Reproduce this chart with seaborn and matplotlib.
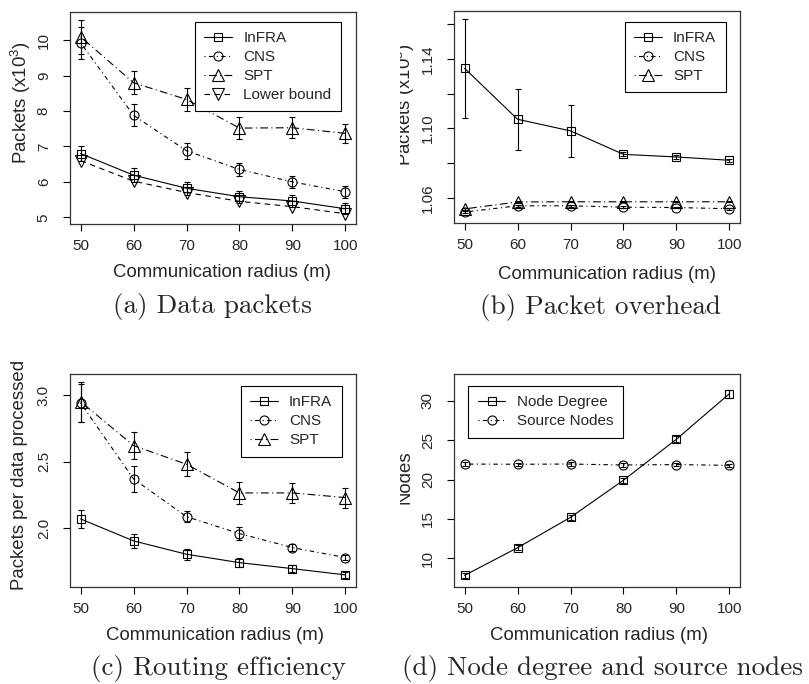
import numpy as np
import matplotlib
matplotlib.use("Agg")
import matplotlib.pyplot as plt
import seaborn as sns
from matplotlib.transforms import Bbox, TransformedBbox

# ===============================
# 1. Data
# ===============================
radius = [50, 60, 70, 80, 90, 100]

# (a) Data packets (x10^3)
a_infra = [6.80, 6.19, 5.82, 5.58, 5.46, 5.24]
a_infra_err = [0.22, 0.20, 0.18, 0.17, 0.17, 0.16]
a_cns = [9.93, 7.88, 6.88, 6.35, 6.00, 5.72]
a_cns_err = [0.45, 0.31, 0.22, 0.18, 0.18, 0.17]
a_spt = [10.10, 8.80, 8.33, 7.52, 7.53, 7.37]
a_spt_err = [0.48, 0.33, 0.33, 0.32, 0.30, 0.26]
a_lower = [6.60, 6.02, 5.70, 5.45, 5.30, 5.10]

# (b) Packet overhead (x10^3)
b_infra = [1.1346, 1.1053, 1.0986, 1.0851, 1.0836, 1.0817]
b_infra_err = [0.0286, 0.0176, 0.0148, 0.0012, 0.0010, 0.0010]
b_cns = [1.0519, 1.0555, 1.0555, 1.0547, 1.0545, 1.0538]
b_cns_err = [0.0005, 0.0005, 0.0005, 0.0005, 0.0005, 0.0005]
b_spt = [1.0537, 1.0577, 1.0578, 1.0578, 1.0578, 1.0578]
b_spt_err = [0.0004, 0.0004, 0.0004, 0.0004, 0.0004, 0.0004]

# (c) Routing efficiency
c_infra = [2.07, 1.905, 1.805, 1.742, 1.697, 1.65]
c_infra_err = [0.065, 0.05, 0.04, 0.035, 0.025, 0.02]
c_cns = [2.94, 2.37, 2.087, 1.96, 1.855, 1.78]
c_cns_err = [0.14, 0.095, 0.04, 0.05, 0.025, 0.02]
c_spt = [2.95, 2.62, 2.48, 2.265, 2.265, 2.23]
c_spt_err = [0.15, 0.10, 0.09, 0.085, 0.075, 0.075]

# (d) Node degree and source nodes
d_degree = [7.79, 11.31, 15.18, 19.91, 25.13, 30.93]
d_degree_err = [0.3, 0.3, 0.3, 0.3, 0.4, 0.5]
d_source = [21.97, 21.94, 21.97, 21.85, 21.90, 21.80]
d_source_err = [0.2, 0.2, 0.2, 0.2, 0.2, 0.2]

# ===============================
# 2. Style
# ===============================
sns.set_style("ticks")
plt.rcParams["font.family"] = ["Liberation Sans", "DejaVu Sans"]
plt.rcParams["axes.linewidth"] = 0.9

SOLID = "-"
DOTDASH = (0, (1, 3, 4, 3))
LONGDOTDASH = (0, (1, 3, 7, 3))
DASHED = (0, (5, 4))

W, H = 809, 684
fig = plt.figure(figsize=(W / 100, H / 100), dpi=100)


def add_axes(left, top, right, bottom):
    # pixel box -> figure fraction
    return fig.add_axes([left / W, 1 - bottom / H, (right - left) / W, (bottom - top) / H])


def draw_series(ax, y, err, label, marker, ls, ms=6.5):
    sns.lineplot(x=radius, y=y, ax=ax, color="black", marker=marker, markersize=ms,
                 markerfacecolor="none", markeredgecolor="black", markeredgewidth=0.8,
                 linewidth=0.8, linestyle=ls, label=label)
    if err is not None:
        ax.errorbar(radius, y, yerr=err, fmt="none", ecolor="black",
                    elinewidth=0.8, capsize=2.5, capthick=0.8)


def style_axes(ax, ylim, yticks, ylabels, ylabel, xl_pos, yl_pos, leg_loc, leg_anchor, clip_x=None):
    ax.set_xlim(48, 102)
    ax.set_ylim(*ylim)
    ax.set_xticks(radius)
    ax.set_xticklabels([str(r) for r in radius])
    ax.set_yticks(yticks)
    ax.set_yticklabels(ylabels, rotation=90, va="center")
    ax.tick_params(axis="both", direction="out", length=4.8, width=0.8,
                   labelsize=11, color="black")
    ax.tick_params(axis="x", pad=6)
    ax.tick_params(axis="y", pad=9)
    for sp in ax.spines.values():
        sp.set_visible(True)
        sp.set_color("#333333")
    ax.set_xlabel("Communication radius (m)", fontsize=13.4, va="center")
    ax.xaxis.set_label_coords(*xl_pos)
    ylab = ax.set_ylabel(ylabel, fontsize=13.4, va="center")
    ax.yaxis.set_label_coords(*yl_pos)
    if clip_x is not None:
        # the left panels' neighbour cuts this label off in the original
        ylab.set_clip_box(TransformedBbox(Bbox([[clip_x / W, 0], [1, 1]]), fig.transFigure))
        ylab.set_clip_on(True)
    leg = ax.legend(loc=leg_loc, bbox_to_anchor=leg_anchor, fontsize=11, frameon=True,
                    fancybox=False, framealpha=1, edgecolor="black", handlelength=1.8,
                    handletextpad=0.75, borderpad=0.62, labelspacing=0.32,
                    borderaxespad=0, numpoints=1)
    leg.get_frame().set_linewidth(0.8)


# ===============================
# 3. (a) Data packets
# ===============================
ax_a = add_axes(70, 12, 356, 224)
draw_series(ax_a, a_infra, a_infra_err, "InFRA", "s", SOLID, 6)
draw_series(ax_a, a_cns, a_cns_err, "CNS", "o", DOTDASH)
draw_series(ax_a, a_spt, a_spt_err, "SPT", "^", LONGDOTDASH, 8)
draw_series(ax_a, a_lower, None, "Lower bound", "v", DASHED, 8)
style_axes(ax_a, (4.81, 10.80), [5, 6, 7, 8, 9, 10], ["5", "6", "7", "8", "9", "10"],
           "Packets (x10$^{\\mathregular{3}}$)", (0.533, -0.231), (-0.172, 0.573),
           "upper right", (0.9476, 0.954))

# ===============================
# 4. (b) Packet overhead
# ===============================
ax_b = add_axes(454, 11, 740, 223)
draw_series(ax_b, b_infra, b_infra_err, "InFRA", "s", SOLID, 6)
draw_series(ax_b, b_cns, b_cns_err, "CNS", "o", DOTDASH)
draw_series(ax_b, b_spt, b_spt_err, "SPT", "^", LONGDOTDASH, 8)
style_axes(ax_b, (1.0456, 1.1676), [1.06, 1.08, 1.10, 1.12, 1.14, 1.16],
           ["1.06", "", "1.10", "", "1.14", ""],
           "Packets (x10$^{\\mathregular{3}}$)", (0.534, -0.241), (-0.172, 0.559),
           "upper right", (0.950, 0.9495), clip_x=400)

# ===============================
# 5. (c) Routing efficiency
# ===============================
ax_c = add_axes(70, 374.3, 356, 587.3)
draw_series(ax_c, c_infra, c_infra_err, "InFRA", "s", SOLID, 6)
draw_series(ax_c, c_cns, c_cns_err, "CNS", "o", DOTDASH)
draw_series(ax_c, c_spt, c_spt_err, "SPT", "^", LONGDOTDASH, 8)
style_axes(ax_c, (1.557, 3.155), [2.0, 2.5, 3.0], ["2.0", "2.5", "3.0"],
           "Packets per data processed", (0.506, -0.224), (-0.175, 0.527),
           "upper right", (0.950, 0.946))

# ===============================
# 6. (d) Node degree and source nodes
# ===============================
ax_d = add_axes(454, 374.3, 740, 587.3)
draw_series(ax_d, d_degree, d_degree_err, "Node Degree", "s", SOLID, 6)
draw_series(ax_d, d_source, d_source_err, "Source Nodes", "o", DOTDASH)
style_axes(ax_d, (6.27, 33.4), [10, 15, 20, 25, 30], ["10", "15", "20", "25", "30"],
           "Nodes", (0.506, -0.224), (-0.171, 0.515),
           "upper left", (0.050, 0.946), clip_x=400)

# ===============================
# 7. Sub-captions
# ===============================
captions = ["(a) Data packets", "(b) Packet overhead",
            "(c) Routing efficiency", "(d) Node degree and source nodes"]
cap_xy = [(212.5, 307), (600.5, 308), (218.5, 668), (602.5, 668)]
for text, (cx, cy) in zip(captions, cap_xy):
    fig.text(cx / W, 1 - cy / H, text, ha="center", va="center",
             fontsize=19.5, family="cmr10")

fig.savefig("out.png", dpi=100)
plt.close(fig)
